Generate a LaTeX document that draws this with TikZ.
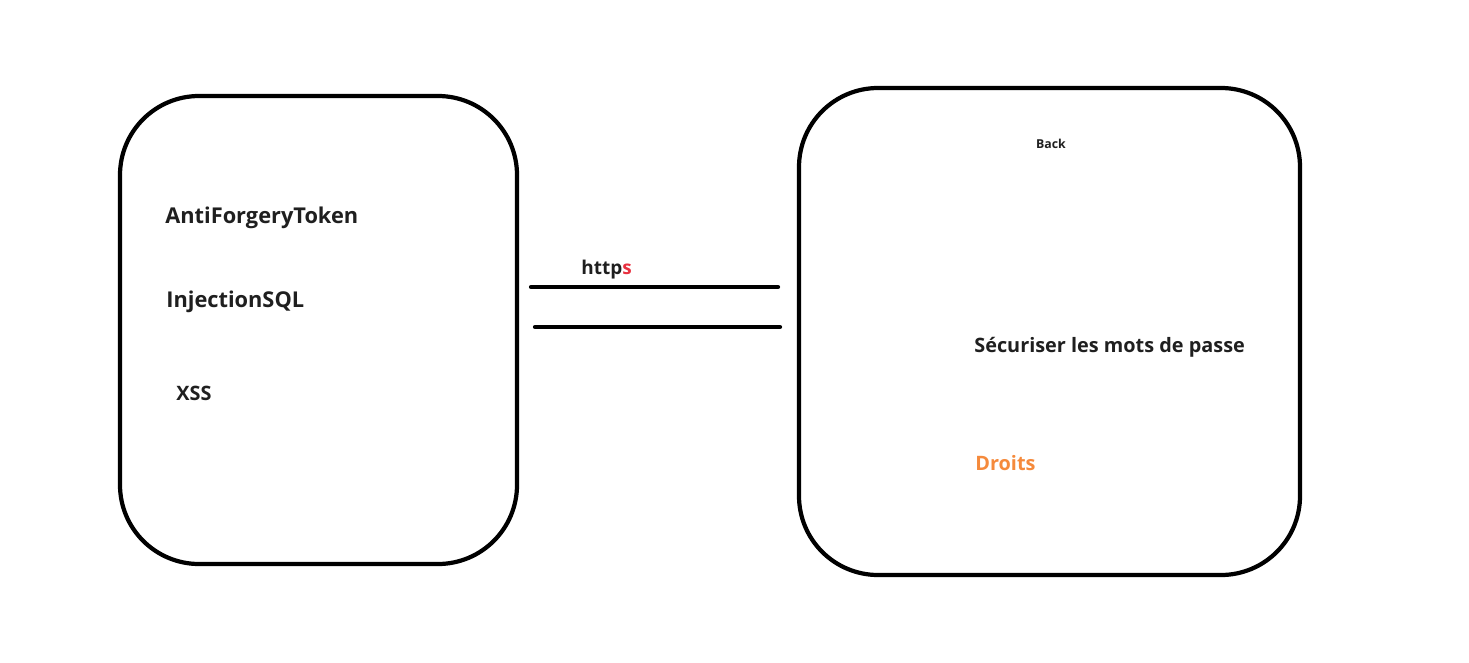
\documentclass[tikz,border=0pt]{standalone}
\usepackage{fontspec}
\setmainfont{Open Sans}
\usetikzlibrary{positioning}
\definecolor{httpsred}{RGB}{232,48,63}
\definecolor{droitorange}{RGB}{245,138,60}
\tikzset{
  zone/.style={draw,line width=2.4pt,rounded corners=45pt},
  lbl/.style={anchor=west,inner sep=0pt,font=\fontsize{11.3}{13}\selectfont\bfseries,text=black!88},
  biglbl/.style={lbl,font=\fontsize{12.4}{14}\selectfont\bfseries},
  canal/.style={line width=2.4pt,line cap=round}
}
\begin{document}
\begin{tikzpicture}[x=0.02cm,y=-0.02cm]
\useasboundingbox (0,0) rectangle (1469,662);
% client side
\draw[zone] (120,96) rectangle (517,564);
\node[biglbl] (token) at (165,218) {AntiForgeryToken};
\node[biglbl] (sql) at (166,302) {InjectionSQL};
\node[lbl] (xss) at (176,393) {XSS};
% server side
\draw[zone] (799,88) rectangle (1300,575);
\node[lbl,anchor=center,font=\fontsize{7}{8}\selectfont\bfseries] (back) at (1051,144) {Back};
\node[lbl] (mdp) at (974,347) {Sécuriser les mots de passe};
\node[lbl,text=droitorange] (droits) at (975,463) {Droits};
% channel
\coordinate (c1a) at (531,287);
\coordinate (c1b) at (778,287);
\coordinate (c2a) at (535,327);
\coordinate (c2b) at (780,327);
\draw[canal] (c1a) -- (c1b);
\draw[canal] (c2a) -- (c2b);
\node[lbl,font=\fontsize{10.8}{12}\selectfont\bfseries] (https) at (581,270) {http\textcolor{httpsred}{s}};
\end{tikzpicture}
\end{document}
